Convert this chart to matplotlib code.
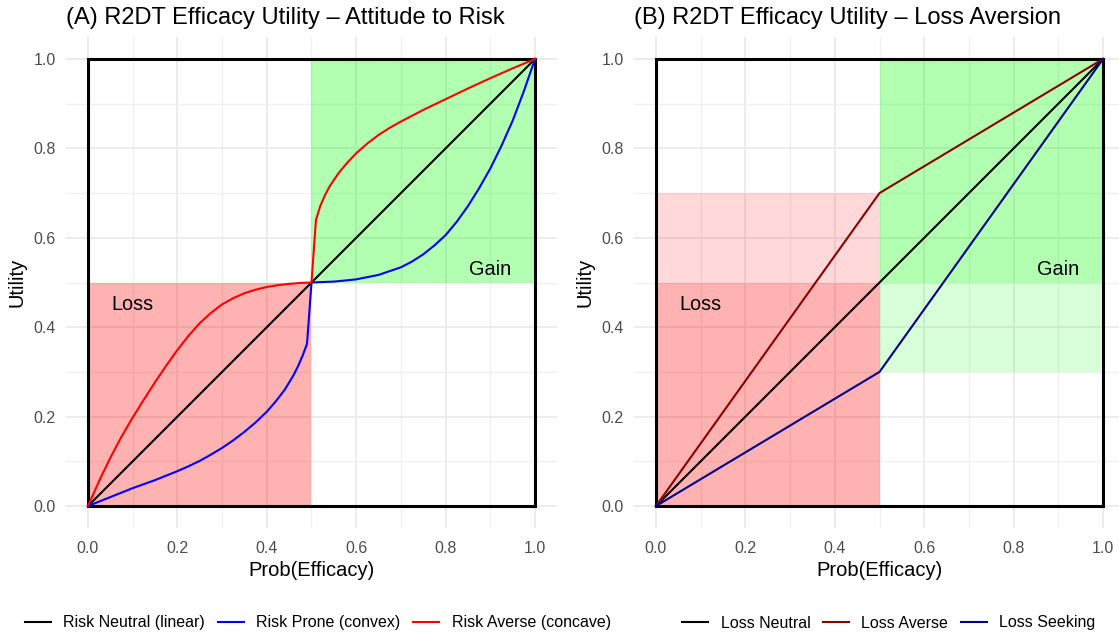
import matplotlib
matplotlib.use("Agg")
import matplotlib.pyplot as plt
from matplotlib.patches import Rectangle

plt.rcParams['font.family'] = ['Liberation Sans', 'DejaVu Sans']

# ---------------- data ----------------
# Panel A
neutral_x = [0.0, 0.5, 1.0]
neutral_y = [0.0, 0.5, 1.0]

prone_x = [0.0, 0.025, 0.05, 0.075, 0.1, 0.125, 0.15, 0.175, 0.2, 0.225, 0.25, 0.275,
           0.3, 0.325, 0.35, 0.375, 0.4, 0.42, 0.44, 0.46, 0.47, 0.48, 0.49, 0.5,
           0.55, 0.6, 0.65, 0.7, 0.725, 0.75, 0.775, 0.8, 0.825, 0.85, 0.875,
           0.9, 0.925, 0.95, 0.975, 1.0]
prone_y = [0.0, 0.010, 0.020, 0.030, 0.040, 0.049, 0.058, 0.068, 0.078, 0.089, 0.101, 0.115,
           0.130, 0.147, 0.166, 0.187, 0.211, 0.234, 0.260, 0.293, 0.313, 0.336, 0.363, 0.5,
           0.502, 0.507, 0.517, 0.534, 0.547, 0.563, 0.583, 0.606, 0.636, 0.671, 0.711,
           0.755, 0.806, 0.862, 0.928, 1.0]

averse_x = [0.0, 0.025, 0.05, 0.075, 0.1, 0.125, 0.15, 0.175, 0.2, 0.225, 0.25, 0.275,
            0.3, 0.325, 0.35, 0.375, 0.4, 0.425, 0.45, 0.475, 0.5,
            0.51, 0.52, 0.53, 0.54, 0.56, 0.58, 0.6, 0.625, 0.65, 0.675, 0.7, 0.725,
            0.75, 0.8, 0.85, 0.9, 0.95, 1.0]
averse_y = [0.0, 0.056, 0.108, 0.155, 0.198, 0.238, 0.277, 0.314, 0.349, 0.381, 0.409, 0.432,
            0.451, 0.465, 0.476, 0.484, 0.490, 0.494, 0.497, 0.499, 0.5,
            0.640, 0.672, 0.695, 0.714, 0.744, 0.768, 0.789, 0.811, 0.830, 0.846, 0.860, 0.873,
            0.886, 0.910, 0.934, 0.957, 0.979, 1.0]

# Panel B
lb_x = [0.0, 0.5, 1.0]
lb_neutral = [0.0, 0.5, 1.0]
lb_averse = [0.0, 0.7, 1.0]
lb_seeking = [0.0, 0.3, 1.0]

titles = ["(A) R2DT Efficacy Utility \u2013 Attitude to Risk",
          "(B) R2DT Efficacy Utility \u2013 Loss Aversion"]
labels_a = ["Risk Neutral (linear)", "Risk Prone (convex)", "Risk Averse (concave)"]
labels_b = ["Loss Neutral", "Loss Averse", "Loss Seeking"]
ticks = [0.0, 0.2, 0.4, 0.6, 0.8, 1.0]
tick_labels = ["0.0", "0.2", "0.4", "0.6", "0.8", "1.0"]

# regions: (x0, x1, y0, y1, color, alpha)
regions_a = [(0.0, 0.5, 0.0, 0.5, 'red', 0.3), (0.5, 1.0, 0.5, 1.0, 'lime', 0.3)]
regions_b = [(0.0, 0.5, 0.0, 0.5, 'red', 0.3), (0.0, 0.5, 0.5, 0.7, 'red', 0.15),
             (0.5, 1.0, 0.5, 1.0, 'lime', 0.3), (0.5, 1.0, 0.3, 0.5, 'lime', 0.15)]

# ---------------- figure ----------------
W, H = 1119, 641
fig = plt.figure(figsize=(W / 100, H / 100), dpi=100)

axw = 491.8 / W
axh = 491.8 / H
axA = fig.add_axes([65.6 / W, 112.6 / H, axw, axh])
axB = fig.add_axes([633.6 / W, 112.6 / H, axw, axh])


def style(ax, title):
    ax.set_xlim(-0.05, 1.05)
    ax.set_ylim(-0.05, 1.05)
    for s in ax.spines.values():
        s.set_visible(False)
    ax.set_xticks(ticks)
    ax.set_xticklabels(tick_labels)
    ax.set_yticks(ticks)
    ax.set_yticklabels(tick_labels)
    ax.set_xticks([0.1, 0.3, 0.5, 0.7, 0.9], minor=True)
    ax.set_yticks([0.1, 0.3, 0.5, 0.7, 0.9], minor=True)
    ax.tick_params(which='both', length=0, colors='#4D4D4D', labelsize=11.5)
    ax.tick_params(axis='x', pad=9)
    ax.tick_params(axis='y', pad=7)
    ax.grid(which='major', color='#EBEBEB', lw=1.3)
    ax.grid(which='minor', color='#F0F0F0', lw=1.0)
    ax.set_axisbelow(True)
    ax.set_xlabel("Prob(Efficacy)", fontsize=14.5, labelpad=4)
    ax.set_ylabel("Utility", fontsize=14.5, labelpad=5)
    ax.set_title(title, loc='left', fontsize=17, pad=9)


def draw_regions(ax, regions):
    for x0, x1, y0, y1, c, a in regions:
        ax.add_patch(Rectangle((x0, y0), x1 - x0, y1 - y0, facecolor=c, alpha=a,
                               edgecolor='none', zorder=1))
    ax.add_patch(Rectangle((0, 0), 1, 1, facecolor='none', edgecolor='black', lw=2.2,
                           zorder=2))
    ax.text(0.1, 0.45, "Loss", fontsize=14.3, ha='center', va='center', zorder=5)
    ax.text(0.9, 0.53, "Gain", fontsize=14.3, ha='center', va='center', zorder=5)


style(axA, titles[0])
draw_regions(axA, regions_a)
lA = [axA.plot(neutral_x, neutral_y, color='black', lw=1.5, zorder=3)[0],
      axA.plot(prone_x, prone_y, color='blue', lw=1.5, zorder=3)[0],
      axA.plot(averse_x, averse_y, color='red', lw=1.5, zorder=3)[0]]

style(axB, titles[1])
draw_regions(axB, regions_b)
lB = [axB.plot(lb_x, lb_neutral, color='black', lw=1.5, zorder=3)[0],
      axB.plot(lb_x, lb_averse, color='#8B0000', lw=1.5, zorder=3)[0],
      axB.plot(lb_x, lb_seeking, color='#00008B', lw=1.5, zorder=3)[0]]

leg_kw = dict(loc='center', ncol=3, frameon=False, fontsize=11.5, handlelength=1.6,
              handletextpad=0.8, columnspacing=0.8)
fig.legend(lA, labels_a, bbox_to_anchor=(318 / W, 18 / H), **leg_kw)
fig.legend(lB, labels_b, bbox_to_anchor=(889 / W, 18 / H), **leg_kw)

fig.savefig("out.png", dpi=100)
